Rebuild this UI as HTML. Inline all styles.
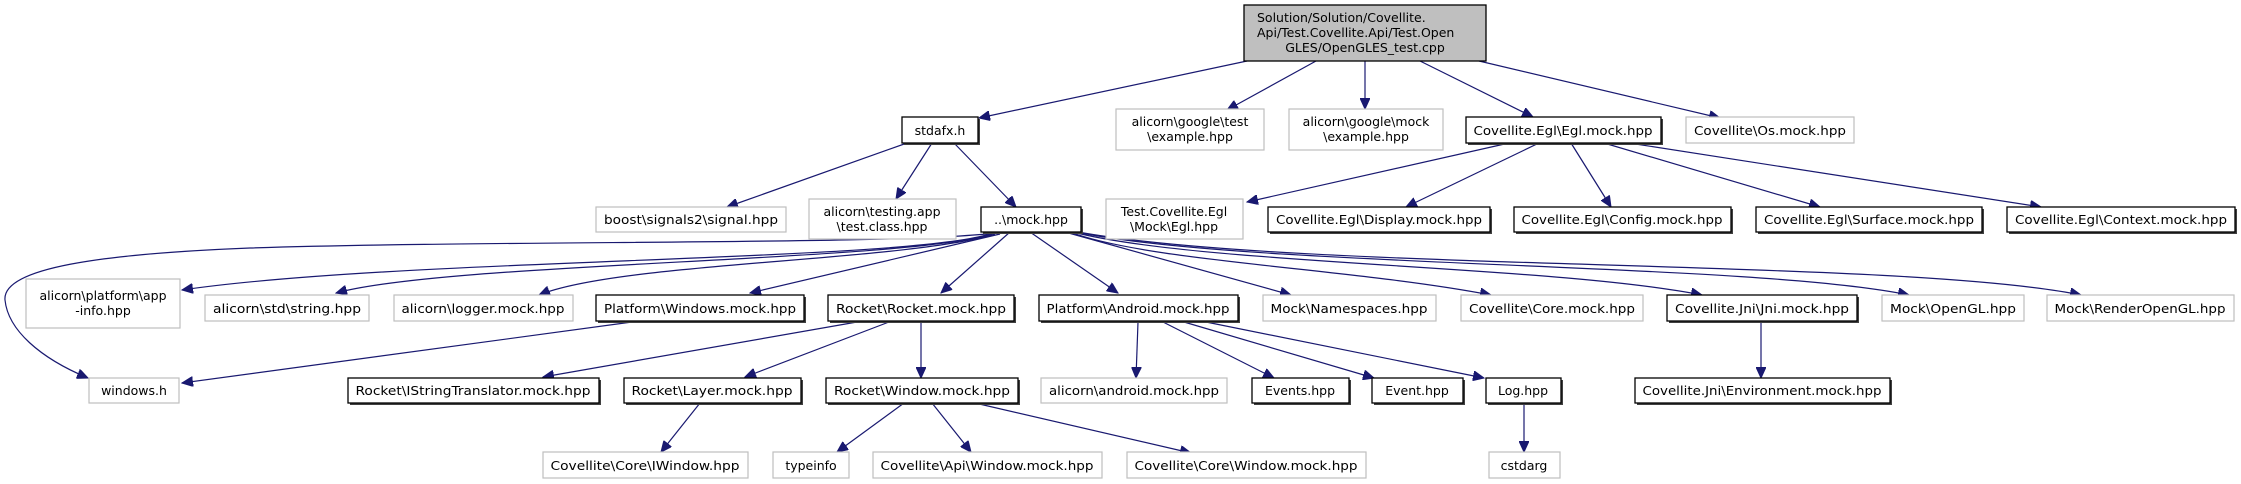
<!DOCTYPE html>
<html><head><meta charset="utf-8"><style>
html,body{margin:0;padding:0;background:#fff;}
svg{display:block;}
text{font-family:"DejaVu Sans","Liberation Sans",sans-serif;font-size:12.5px;fill:#000;}
.g{fill:#fff;stroke:#bfbfbf;stroke-width:1.2;}
.b{fill:#fff;stroke:#000;stroke-width:1.3;}
.s{fill:#404040;}
.e{fill:none;stroke:#191970;stroke-width:1.2;}
</style></head><body>
<svg width="2241" height="484" viewBox="0 0 2241 484" xmlns="http://www.w3.org/2000/svg">
<defs><marker id="a" markerUnits="userSpaceOnUse" markerWidth="12" markerHeight="10" refX="11" refY="5" orient="auto"><path d="M0,0 L11,5 L0,10 Z" fill="#191970" stroke="#191970"/></marker></defs>

<!-- edges -->
<g class="e" marker-end="url(#a)">
<path d="M1247,61 L979,118"/>
<path d="M1316,61 L1227,110"/>
<path d="M1365,61 L1365,109"/>
<path d="M1420,61 L1533,117"/>
<path d="M1479,61 L1720,118"/>
<path d="M907,143 L727,207"/>
<path d="M932,143 L896,199"/>
<path d="M954,143 L1016,207"/>
<path d="M1509,143 L1247,202"/>
<path d="M1539,143 L1406,207"/>
<path d="M1571,143 L1611,207"/>
<path d="M1604,143 L1820,207"/>
<path d="M1629,143 L2041,207"/>
<path d="M995,233 C900,245 500,240 250,248 C100,254 2,268 5,300 C8,330 40,358 88,378"/>
<path d="M990,234 C900,262 400,258 182,290"/>
<path d="M992,234 C900,262 450,262 336,293"/>
<path d="M995,234 C900,262 620,262 539,295"/>
<path d="M1000,234 L750,293"/>
<path d="M1010,232 L941,293"/>
<path d="M1030,232 L1118,293"/>
<path d="M1065,232 L1291,295"/>
<path d="M1070,232 C1150,262 1350,268 1491,295"/>
<path d="M1073,232 C1200,265 1550,265 1702,295"/>
<path d="M1076,232 C1250,268 1750,262 1909,295"/>
<path d="M1078,232 C1300,272 1900,258 2081,295"/>
<path d="M632,322 L182,383"/>
<path d="M857,322 L543,377"/>
<path d="M889,322 L745,377"/>
<path d="M921,322 L921,378"/>
<path d="M700,403 L661,452"/>
<path d="M904,403 L837,452"/>
<path d="M932,403 L971,452"/>
<path d="M975,403 L1191,453"/>
<path d="M1138,322 L1136,378"/>
<path d="M1163,322 L1274,378"/>
<path d="M1184,322 L1374,378"/>
<path d="M1206,322 L1484,378"/>
<path d="M1761,322 L1761,378"/>
<path d="M1524,403 L1524,452"/>
</g>

<!-- root -->
<rect x="1244" y="5" width="242" height="56" fill="#bfbfbf" stroke="#000" stroke-width="1.3"/>
<text x="1257" y="22">Solution/Solution/Covellite.</text>
<text x="1257" y="37">Api/Test.Covellite.Api/Test.Open</text>
<text x="1365" y="52" text-anchor="middle">GLES/OpenGLES_test.cpp</text>

<!-- helper: nodes -->
<g>
<!-- bold single-line nodes -->
<rect class="s" x="904" y="119" width="76" height="26"/><rect class="b" x="902" y="117" width="76" height="26"/><text x="940" y="135" text-anchor="middle">stdafx.h</text>
<rect class="s" x="1468" y="119" width="195" height="26"/><rect class="b" x="1466" y="117" width="195" height="26"/><text x="1563" y="135" text-anchor="middle" textLength="179" lengthAdjust="spacingAndGlyphs">Covellite.Egl\Egl.mock.hpp</text>
<rect class="s" x="983" y="209" width="100" height="25"/><rect class="b" x="981" y="207" width="100" height="25"/><text x="1031" y="224" text-anchor="middle">..\mock.hpp</text>
<rect class="s" x="1270" y="209" width="222" height="25"/><rect class="b" x="1268" y="207" width="222" height="25"/><text x="1379" y="224" text-anchor="middle" textLength="206" lengthAdjust="spacingAndGlyphs">Covellite.Egl\Display.mock.hpp</text>
<rect class="s" x="1516" y="209" width="217" height="25"/><rect class="b" x="1514" y="207" width="217" height="25"/><text x="1622" y="224" text-anchor="middle" textLength="201" lengthAdjust="spacingAndGlyphs">Covellite.Egl\Config.mock.hpp</text>
<rect class="s" x="1758" y="209" width="226" height="25"/><rect class="b" x="1756" y="207" width="226" height="25"/><text x="1869" y="224" text-anchor="middle" textLength="210" lengthAdjust="spacingAndGlyphs">Covellite.Egl\Surface.mock.hpp</text>
<rect class="s" x="2009" y="209" width="228" height="25"/><rect class="b" x="2007" y="207" width="228" height="25"/><text x="2121" y="224" text-anchor="middle" textLength="212" lengthAdjust="spacingAndGlyphs">Covellite.Egl\Context.mock.hpp</text>

<rect class="s" x="598" y="297" width="208" height="26"/><rect class="b" x="596" y="295" width="208" height="26"/><text x="700" y="313" text-anchor="middle" textLength="192" lengthAdjust="spacingAndGlyphs">Platform\Windows.mock.hpp</text>
<rect class="s" x="830" y="297" width="186" height="26"/><rect class="b" x="828" y="295" width="186" height="26"/><text x="921" y="313" text-anchor="middle" textLength="170" lengthAdjust="spacingAndGlyphs">Rocket\Rocket.mock.hpp</text>
<rect class="s" x="1041" y="297" width="199" height="26"/><rect class="b" x="1039" y="295" width="199" height="26"/><text x="1138" y="313" text-anchor="middle" textLength="183" lengthAdjust="spacingAndGlyphs">Platform\Android.mock.hpp</text>
<rect class="s" x="1669" y="297" width="190" height="26"/><rect class="b" x="1667" y="295" width="190" height="26"/><text x="1762" y="313" text-anchor="middle" textLength="174" lengthAdjust="spacingAndGlyphs">Covellite.Jni\Jni.mock.hpp</text>

<rect class="s" x="350" y="380" width="251" height="25"/><rect class="b" x="348" y="378" width="251" height="25"/><text x="473" y="395" text-anchor="middle" textLength="235" lengthAdjust="spacingAndGlyphs">Rocket\IStringTranslator.mock.hpp</text>
<rect class="s" x="626" y="380" width="177" height="25"/><rect class="b" x="624" y="378" width="177" height="25"/><text x="712" y="395" text-anchor="middle" textLength="161" lengthAdjust="spacingAndGlyphs">Rocket\Layer.mock.hpp</text>
<rect class="s" x="828" y="380" width="192" height="25"/><rect class="b" x="826" y="378" width="192" height="25"/><text x="922" y="395" text-anchor="middle" textLength="176" lengthAdjust="spacingAndGlyphs">Rocket\Window.mock.hpp</text>
<rect class="s" x="1254" y="380" width="97" height="25"/><rect class="b" x="1252" y="378" width="97" height="25"/><text x="1300" y="395" text-anchor="middle">Events.hpp</text>
<rect class="s" x="1374" y="380" width="91" height="25"/><rect class="b" x="1372" y="378" width="91" height="25"/><text x="1417" y="395" text-anchor="middle">Event.hpp</text>
<rect class="s" x="1488" y="380" width="75" height="25"/><rect class="b" x="1486" y="378" width="75" height="25"/><text x="1523" y="395" text-anchor="middle">Log.hpp</text>
<rect class="s" x="1637" y="380" width="255" height="25"/><rect class="b" x="1635" y="378" width="255" height="25"/><text x="1762" y="395" text-anchor="middle" textLength="239" lengthAdjust="spacingAndGlyphs">Covellite.Jni\Environment.mock.hpp</text>
</g>

<g>
<!-- gray nodes -->
<rect class="g" x="1116" y="109" width="148" height="41"/><text x="1190" y="126" text-anchor="middle">alicorn\google\test</text><text x="1190" y="141" text-anchor="middle">\example.hpp</text>
<rect class="g" x="1289" y="109" width="154" height="41"/><text x="1366" y="126" text-anchor="middle">alicorn\google\mock</text><text x="1366" y="141" text-anchor="middle">\example.hpp</text>
<rect class="g" x="1686" y="117" width="168" height="26"/><text x="1770" y="135" text-anchor="middle" textLength="152" lengthAdjust="spacingAndGlyphs">Covellite\Os.mock.hpp</text>

<rect class="g" x="596" y="207" width="190" height="25"/><text x="691" y="224" text-anchor="middle" textLength="174" lengthAdjust="spacingAndGlyphs">boost\signals2\signal.hpp</text>
<rect class="g" x="809" y="199" width="147" height="40"/><text x="882" y="216" text-anchor="middle">alicorn\testing.app</text><text x="882" y="231" text-anchor="middle">\test.class.hpp</text>
<rect class="g" x="1106" y="199" width="137" height="40"/><text x="1174" y="216" text-anchor="middle">Test.Covellite.Egl</text><text x="1174" y="231" text-anchor="middle">\Mock\Egl.hpp</text>

<rect class="g" x="26" y="279" width="154" height="49"/><text x="103" y="300" text-anchor="middle">alicorn\platform\app</text><text x="103" y="315" text-anchor="middle">-info.hpp</text>
<rect class="g" x="205" y="295" width="164" height="26"/><text x="287" y="313" text-anchor="middle" textLength="148" lengthAdjust="spacingAndGlyphs">alicorn\std\string.hpp</text>
<rect class="g" x="394" y="295" width="179" height="26"/><text x="483" y="313" text-anchor="middle" textLength="163" lengthAdjust="spacingAndGlyphs">alicorn\logger.mock.hpp</text>
<rect class="g" x="1263" y="295" width="173" height="26"/><text x="1349" y="313" text-anchor="middle" textLength="157" lengthAdjust="spacingAndGlyphs">Mock\Namespaces.hpp</text>
<rect class="g" x="1461" y="295" width="182" height="26"/><text x="1552" y="313" text-anchor="middle" textLength="166" lengthAdjust="spacingAndGlyphs">Covellite\Core.mock.hpp</text>
<rect class="g" x="1882" y="295" width="142" height="26"/><text x="1953" y="313" text-anchor="middle" textLength="126" lengthAdjust="spacingAndGlyphs">Mock\OpenGL.hpp</text>
<rect class="g" x="2047" y="295" width="187" height="26"/><text x="2140" y="313" text-anchor="middle" textLength="171" lengthAdjust="spacingAndGlyphs">Mock\RenderOpenGL.hpp</text>

<rect class="g" x="89" y="378" width="90" height="25"/><text x="134" y="395" text-anchor="middle">windows.h</text>
<rect class="g" x="1041" y="378" width="186" height="25"/><text x="1134" y="395" text-anchor="middle" textLength="170" lengthAdjust="spacingAndGlyphs">alicorn\android.mock.hpp</text>

<rect class="g" x="543" y="452" width="205" height="26"/><text x="645" y="470" text-anchor="middle" textLength="189" lengthAdjust="spacingAndGlyphs">Covellite\Core\IWindow.hpp</text>
<rect class="g" x="773" y="452" width="76" height="26"/><text x="811" y="470" text-anchor="middle">typeinfo</text>
<rect class="g" x="873" y="452" width="229" height="26"/><text x="987" y="470" text-anchor="middle" textLength="213" lengthAdjust="spacingAndGlyphs">Covellite\Api\Window.mock.hpp</text>
<rect class="g" x="1127" y="452" width="239" height="26"/><text x="1246" y="470" text-anchor="middle" textLength="223" lengthAdjust="spacingAndGlyphs">Covellite\Core\Window.mock.hpp</text>
<rect class="g" x="1489" y="452" width="71" height="26"/><text x="1524" y="470" text-anchor="middle">cstdarg</text>
</g>
</svg>
</body></html>
